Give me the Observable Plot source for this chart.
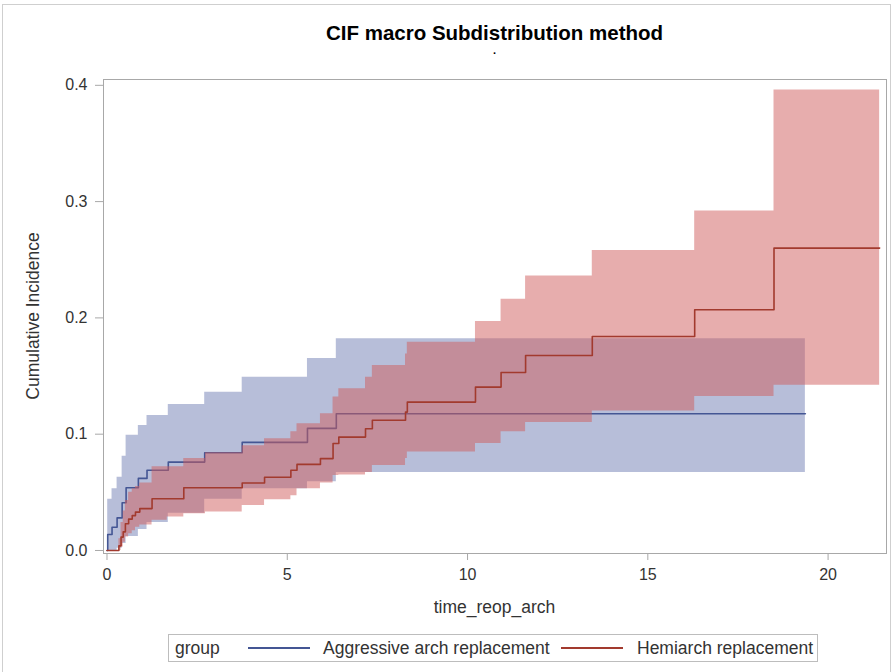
<!DOCTYPE html>
<html>
<head>
<meta charset="utf-8">
<script src="https://cdn.jsdelivr.net/npm/d3@7"></script>
<script src="https://cdn.jsdelivr.net/npm/@observablehq/plot@0.6"></script>
<style>
  body { margin: 0; background: #fff; font-family: "Liberation Sans", Arial, sans-serif; }
  #wrap { position: relative; width: 894px; height: 672px; overflow: hidden; background: #fff; }
  #border { position: absolute; left: 2px; top: 4px; width: 889px; height: 680px; border: 1px solid #cfcfcf; box-sizing: border-box; }
  #title { position: absolute; top: 21.5px; left: 0; width: 989px; text-align: center; font-weight: bold; font-size: 20.5px; line-height: 21px; color: #000; }
  #subtitle { position: absolute; top: 48px; left: 0; width: 989px; text-align: center; font-weight: bold; font-size: 11px; line-height: 4px; height: 4px; color: #000; }
  #ylab { position: absolute; left: 33px; top: 316px; transform: translate(-50%, -50%) rotate(-90deg); white-space: nowrap; font-size: 17.5px; color: #333; }
  #xlab { position: absolute; left: 494.5px; top: 607px; transform: translate(-50%, -50%); white-space: nowrap; font-size: 17.5px; color: #333; }
  #plot { position: absolute; left: 0; top: 0; }
  #legend { position: absolute; left: 168px; top: 634px; width: 650px; height: 28px; border: 1px solid #bdbdbd; box-sizing: border-box; font-size: 17.5px; color: #333; }
  #legend span.t { position: absolute; top: 0; line-height: 26px; white-space: nowrap; }
  #legend span.l { position: absolute; top: 12px; height: 2px; width: 62px; }
</style>
</head>
<body>
<div id="wrap">
  <div id="border"></div>
  <div id="title">CIF macro Subdistribution method</div>
  <div id="subtitle">.</div>
  <div id="ylab">Cumulative Incidence</div>
  <div id="xlab">time_reop_arch</div>
  <div id="plot"></div>
  <div id="legend"></div>
</div>
<script>
// ---- Data ----
const groups = ["Aggressive arch replacement", "Hemiarch replacement"];
const legendTitle = "group";
const xTicks = [0, 5, 10, 15, 20];
const yTicks = [0.0, 0.1, 0.2, 0.3, 0.4];

// Aggressive arch replacement
const aggTime  = [0,     0.02,   0.14,  0.28,  0.42,  0.53,  0.87,  1.11,  1.70,  2.71,  3.75,  5.56,  6.36,   19.37];
const aggCif   = [0,     0.0138, 0.020, 0.028, 0.041, 0.054, 0.062, 0.069, 0.076, 0.084, 0.093, 0.105, 0.1176, 0.1176];
const aggLower = [0,     0,      0,     0.002, 0.006, 0.012, 0.018, 0.024, 0.032, 0.044, 0.053, 0.059, 0.067,  0.067];
const aggUpper = [0,     0.044,  0.053, 0.063, 0.081, 0.099, 0.1075,0.116, 0.1256,0.136, 0.149, 0.165, 0.182,  0.182];

// Hemiarch replacement
const hemiTime  = [0, 0.33, 0.39, 0.45, 0.51, 0.60, 0.70, 0.79, 0.91, 1.25, 1.67, 2.13, 2.73, 3.75, 4.37, 5.10, 5.27, 5.92, 6.27, 6.43, 7.17, 7.36, 8.28, 8.33, 10.22, 10.93, 11.61, 13.46, 16.30, 18.50, 21.43];
const hemiCif   = [0, 0.004, 0.0115, 0.016, 0.023, 0.027, 0.030, 0.033, 0.036, 0.0445, 0.0445, 0.054, 0.054, 0.058, 0.063, 0.069, 0.074, 0.079, 0.092, 0.0975, 0.1047, 0.112, 0.119, 0.1276, 0.1405, 0.153, 0.1677, 0.184, 0.207, 0.260, 0.260];
const hemiLower = [0, 0,     0.003,  0.007, 0.0115, 0.0143, 0.017, 0.020, 0.022, 0.026, 0.0287, 0.0316, 0.033, 0.0387, 0.0436, 0.047, 0.053, 0.058, 0.0645, 0.065, 0.067, 0.073, 0.079, 0.0846, 0.092, 0.102, 0.110, 0.120, 0.1325, 0.142, 0.142];
const hemiUpper = [0, 0.010, 0.024,  0.034, 0.043, 0.050, 0.053, 0.055, 0.058, 0.072, 0.072, 0.079, 0.084, 0.090, 0.096, 0.102, 0.109, 0.1176, 0.132, 0.139, 0.149, 0.159, 0.169, 0.179, 0.197, 0.216, 0.236, 0.258, 0.292, 0.396, 0.396];

const lineColors = ["#445694", "#A23A2E"];
const fillColors = ["#6F7EB3", "#D05B5B"];

const agg = aggTime.map((t, i) => ({t, cif: aggCif[i], lo: aggLower[i], hi: aggUpper[i]}));
const hemi = hemiTime.map((t, i) => ({t, cif: hemiCif[i], lo: hemiLower[i], hi: hemiUpper[i]}));

const chart = Plot.plot({
  width: 894,
  height: 620,
  marginLeft: 103,
  marginRight: 8,
  marginTop: 79,
  marginBottom: 67,
  style: { fontFamily: "'Liberation Sans', Arial, sans-serif", fontSize: "16px", background: "transparent", overflow: "visible" },
  x: { domain: [-0.097, 21.62] },
  y: { domain: [-0.0026, 0.405] },
  marks: [
    Plot.areaY(agg, {x: "t", y1: "lo", y2: "hi", curve: "step-after", fill: fillColors[0], fillOpacity: 0.5}),
    Plot.line(agg, {x: "t", y: "cif", curve: "step-after", stroke: lineColors[0], strokeWidth: 1.6}),
    Plot.areaY(hemi, {x: "t", y1: "lo", y2: "hi", curve: "step-after", fill: fillColors[1], fillOpacity: 0.5}),
    Plot.line(hemi, {x: "t", y: "cif", curve: "step-after", stroke: lineColors[1], strokeWidth: 1.6}),
    Plot.frame({stroke: "#a8a8a8"}),
    Plot.axisX({ticks: xTicks, tickFormat: d => String(d), tickSize: 7, tickPadding: 8, stroke: "#a8a8a8", fill: "#333", label: null, fontSize: 16}),
    Plot.axisY({ticks: yTicks, tickFormat: d3.format(".1f"), tickSize: 8, tickPadding: 8, stroke: "#a8a8a8", fill: "#333", label: null, fontSize: 16})
  ]
});
document.getElementById("plot").appendChild(chart);

// Legend
const leg = document.getElementById("legend");
const items = [
  {cls: "t", left: 6, text: legendTitle},
  {cls: "l", left: 79, color: lineColors[0]},
  {cls: "t", left: 154, text: groups[0]},
  {cls: "l", left: 392, color: lineColors[1]},
  {cls: "t", left: 468, text: groups[1]}
];
for (const it of items) {
  const s = document.createElement("span");
  s.className = it.cls;
  s.style.left = it.left + "px";
  if (it.text) s.textContent = it.text;
  if (it.color) s.style.background = it.color;
  leg.appendChild(s);
}
</script>
</body>
</html>
